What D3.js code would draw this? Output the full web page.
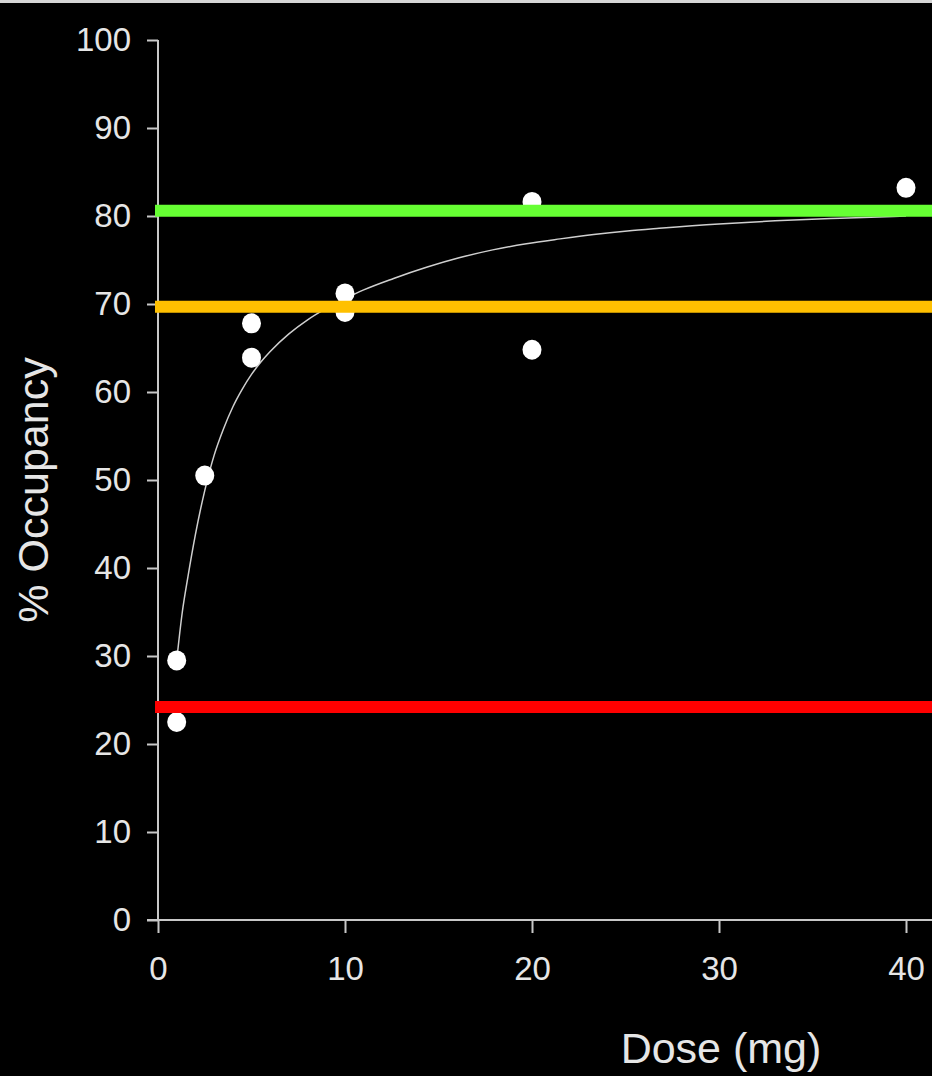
<!DOCTYPE html>
<html>
<head>
<meta charset="utf-8">
<script src="https://cdn.jsdelivr.net/npm/d3@7"></script>
<style>
  html, body { margin: 0; padding: 0; background: #000; }
  svg { display: block; }
</style>
</head>
<body>
<script>
// ---- data ----
const doses = [1, 1, 2.5, 5, 5, 10, 10, 20, 20, 40];
const occupancy = [29.5, 22.5, 50.5, 67.8, 63.9, 71.2, 69.1, 81.6, 64.8, 83.2];
const fitDose = [1, 1.3, 1.6, 2.0, 2.5, 3.0, 3.5, 4.0, 4.5, 5.0, 5.5, 6.0, 7.0, 8.0, 9.0, 10.0, 11.0, 12.6, 14.4, 16.1, 17.9, 19.7, 21.5, 23.3, 25.1, 26.8, 30, 33, 36.5, 40];
const fitOcc = [29.5, 35.0, 39.0, 43.8, 48.8, 52.8, 55.8, 58.3, 60.3, 62.0, 63.4, 64.6, 66.6, 68.2, 69.5, 70.6, 71.6, 72.9, 74.2, 75.25, 76.15, 76.85, 77.4, 77.9, 78.3, 78.6, 79.1, 79.45, 79.75, 80.0];
const refLevels = [80.6, 69.7, 24.2];
const refColors = ["#66ff33", "#ffc000", "#ff0000"];
const xTicks = [0, 10, 20, 30, 40];
const yTicks = [0, 10, 20, 30, 40, 50, 60, 70, 80, 90, 100];
const xTitle = "Dose (mg)";
const yTitle = "% Occupancy";

// ---- layout ----
const W = 932, H = 1076;
const svg = d3.select("body").append("svg").attr("width", W).attr("height", H);
svg.append("rect").attr("width", W).attr("height", H).attr("fill", "#000");
svg.append("rect").attr("width", W).attr("height", 3).attr("fill", "#d6d6d6");

const x = d3.scaleLinear().domain([0, 40]).range([158, 906]);
const y = d3.scaleLinear().domain([0, 100]).range([920, 40]);

const axisColor = "#c8c8c8";
const textColor = "#e6e6e6";
const font = "'Liberation Sans', Arial, sans-serif";

// y axis
const gy = svg.append("g").attr("transform", `translate(${x(0)},0)`)
  .call(d3.axisLeft(y).tickValues(yTicks).tickSize(11).tickPadding(16).tickSizeOuter(0));
gy.select(".domain").remove();
gy.selectAll(".tick line").attr("stroke", axisColor).attr("stroke-width", 2);
gy.selectAll(".tick text").attr("fill", textColor).attr("font-size", 33).attr("font-family", font);
svg.append("line").attr("x1", x(0)).attr("x2", x(0)).attr("y1", y(100)).attr("y2", y(0))
  .attr("stroke", axisColor).attr("stroke-width", 2);

// x axis
const gx = svg.append("g").attr("transform", `translate(0,${y(0)})`)
  .call(d3.axisBottom(x).tickValues(xTicks).tickSize(13).tickPadding(24).tickSizeOuter(0));
gx.select(".domain").remove();
gx.selectAll(".tick line").attr("stroke", axisColor).attr("stroke-width", 2);
gx.selectAll(".tick text").attr("fill", textColor).attr("font-size", 33).attr("font-family", font);
svg.append("line").attr("x1", x(0) - 11).attr("x2", W).attr("y1", y(0)).attr("y2", y(0))
  .attr("stroke", axisColor).attr("stroke-width", 2);

// titles
svg.append("text").attr("transform", `translate(48,${(360 + 620) / 2}) rotate(-90)`)
  .attr("text-anchor", "middle").attr("fill", textColor)
  .attr("font-size", 43).attr("font-family", font).text(yTitle);
svg.append("text").attr("x", 721).attr("y", 1063)
  .attr("text-anchor", "middle").attr("fill", textColor)
  .attr("font-size", 43).attr("font-family", font).text(xTitle);

// fitted curve
const fit = fitDose.map((d, i) => [d, fitOcc[i]]);
svg.append("path").datum(fit)
  .attr("fill", "none").attr("stroke", "#cfcfcf").attr("stroke-width", 1.5)
  .attr("d", d3.line().x(d => x(d[0])).y(d => y(d[1])).curve(d3.curveMonotoneX));

// points
const pts = doses.map((d, i) => [d, occupancy[i]]);
svg.selectAll("ellipse.pt").data(pts).enter().append("ellipse")
  .attr("class", "pt")
  .attr("cx", d => x(d[0])).attr("cy", d => y(d[1]))
  .attr("rx", 9.5).attr("ry", 10).attr("fill", "#ffffff");

// reference lines
svg.selectAll("line.ref").data(refLevels).enter().append("line")
  .attr("class", "ref")
  .attr("x1", x(0) - 3).attr("x2", W)
  .attr("y1", d => y(d)).attr("y2", d => y(d))
  .attr("stroke", (d, i) => refColors[i]).attr("stroke-width", 12);
</script>
</body>
</html>
